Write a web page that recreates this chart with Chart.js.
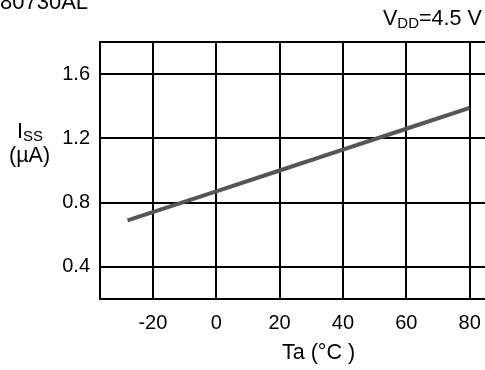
<!DOCTYPE html>
<html>
<head>
<meta charset="utf-8">
<script src="https://cdn.jsdelivr.net/npm/chart.js@4"></script>
<style>
  html, body { margin: 0; padding: 0; background: #fff; overflow: hidden; width: 485px; height: 370px; }
  body { position: relative; font-family: "Liberation Sans", Arial, sans-serif; color: #000; }
  #wrap { position: absolute; left: 0; top: 0; width: 540px; height: 370px; }
  .txt { position: absolute; font-size: 21.5px; white-space: nowrap; line-height: 1; }
  sub { font-size: 15px; vertical-align: -3px; line-height: 0; }
</style>
</head>
<body>
<div id="wrap"><canvas id="c" width="540" height="370"></canvas></div>
<div class="txt" style="left:0; top:-9px; font-size:22px;">80730AL</div>
<div class="txt" style="left:383px; top:8px;">V<sub>DD</sub>=4.5 V</div>
<div class="txt" style="left:17px; top:121px;">I<sub>SS</sub></div>
<div class="txt" style="left:9px; top:145px;">(µA)</div>
<div class="txt" style="left:282px; top:342px;">Ta (°C )</div>
<script>
const temps = [-28, 0, 20, 40, 60, 80];
const issValues = [0.69, 0.87, 1.00, 1.13, 1.26, 1.39];
const xTicks = [-20, 0, 20, 40, 60, 80];
const yTicks = [0.4, 0.8, 1.2, 1.6];

const topBorder = {
    id: 'topBorder',
    beforeDatasetsDraw(chart) {
        const { ctx, chartArea } = chart;
        ctx.save();
        ctx.strokeStyle = '#000';
        ctx.lineWidth = 2;
        ctx.beginPath();
        ctx.moveTo(chartArea.left, chartArea.top);
        ctx.lineTo(chartArea.right, chartArea.top);
        ctx.stroke();
        ctx.restore();
    }
};

new Chart(document.getElementById('c').getContext('2d'), {
    type: 'scatter',
    data: {
        datasets: [{
            data: temps.map((t, i) => ({ x: t, y: issValues[i] })),
            showLine: true,
            borderColor: '#555555',
            borderWidth: 4,
            pointRadius: 0,
            fill: false
        }]
    },
    options: {
        responsive: false,
        animation: false,
        layout: { padding: { top: 42, right: 7, left: 0, bottom: 0 } },
        plugins: { legend: { display: false }, tooltip: { enabled: false } },
        scales: {
            x: {
                type: 'linear',
                min: -36.7,
                max: 100,
                afterBuildTicks: s => { s.ticks = xTicks.map(v => ({ value: v })); },
                afterFit: s => { s.height = 71; },
                grid: { color: '#000', lineWidth: 2, drawTicks: false },
                border: { color: '#000', width: 2 },
                ticks: { color: '#000', padding: 12, font: { family: 'Liberation Sans', size: 20 } }
            },
            y: {
                type: 'linear',
                min: 0.2,
                max: 1.8,
                afterBuildTicks: s => { s.ticks = yTicks.map(v => ({ value: v })); },
                afterFit: s => { s.width = 100; },
                grid: { color: '#000', lineWidth: 2, drawTicks: false },
                border: { color: '#000', width: 2 },
                ticks: { color: '#000', padding: 10, font: { family: 'Liberation Sans', size: 20 },
                    callback: v => v.toFixed(1) }
            }
        }
    },
    plugins: [topBorder]
});
</script>
</body>
</html>
